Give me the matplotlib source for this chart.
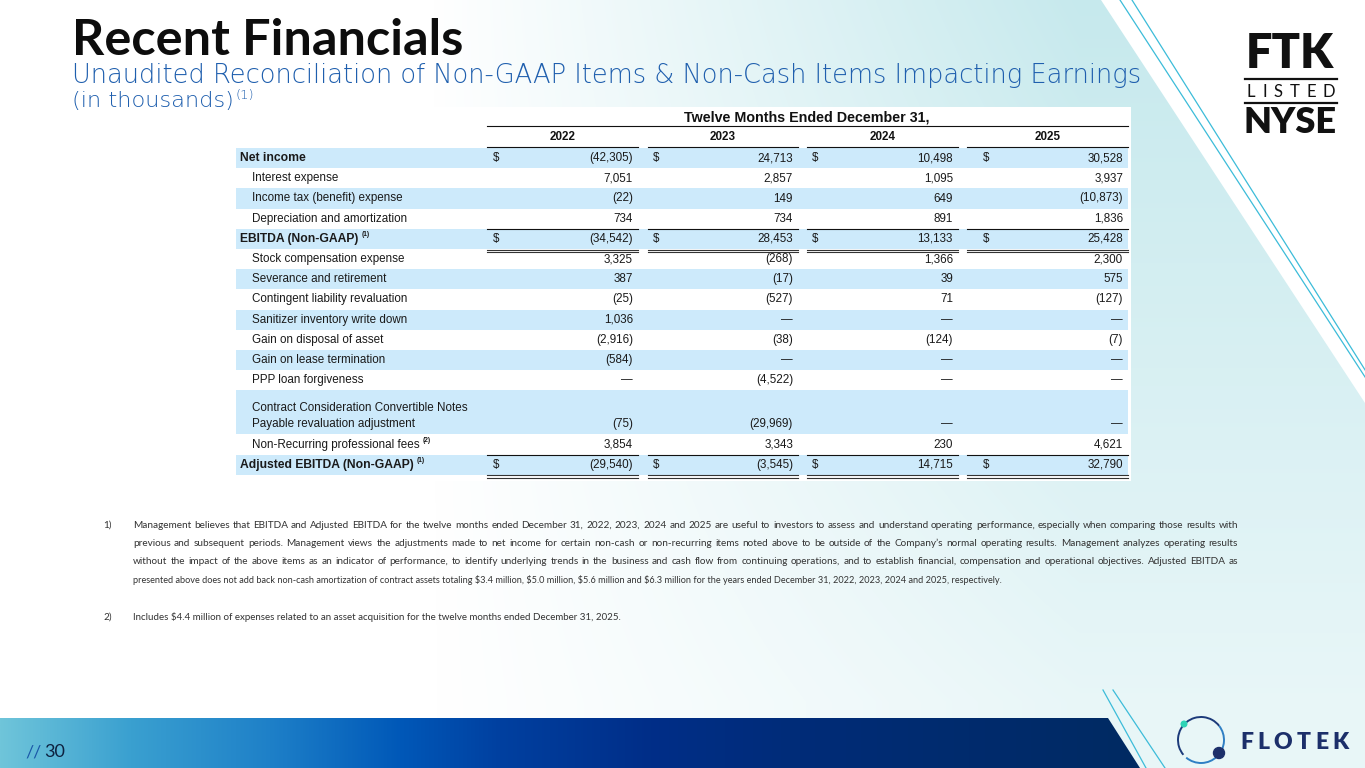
import numpy as np
import matplotlib
matplotlib.use("Agg")
import matplotlib.pyplot as plt
from matplotlib.patches import Polygon, Rectangle, Circle, Arc

# ---------------- data ----------------
slide_title = "Recent Financials"
slide_subtitle = "Unaudited Reconciliation of Non-GAAP Items & Non-Cash Items Impacting Earnings"
slide_units = "(in thousands)"
header_title = "Twelve Months Ended December 31,"
years = ["2022", "2023", "2024", "2025"]
row_labels = [
    "Net income",
    "Interest expense",
    "Income tax (benefit) expense",
    "Depreciation and amortization",
    "EBITDA (Non-GAAP)",
    "Stock compensation expense",
    "Severance and retirement",
    "Contingent liability revaluation",
    "Sanitizer inventory write down",
    "Gain on disposal of asset",
    "Gain on lease termination",
    "PPP loan forgiveness",
    "Contract Consideration Convertible Notes\nPayable revaluation adjustment",
    "Non-Recurring professional fees",
    "Adjusted EBITDA (Non-GAAP)",
]
row_notes = ["", "", "", "", "(1)", "", "", "", "", "", "", "", "", "(2)", "(1)"]
total_rows = [0, 4, 14]
values_2022 = [-42305, 7051, -22, 734, -34542, 3325, 387, -25, 1036, -2916, -584, 0, -75, 3854, -29540]
values_2023 = [24713, 2857, 149, 734, 28453, -268, -17, -527, 0, -38, 0, -4522, -29969, 3343, -3545]
values_2024 = [10498, 1095, 649, 891, 13133, 1366, 39, 71, 0, -124, 0, 0, 0, 230, 14715]
values_2025 = [30528, 3937, -10873, 1836, 25428, 2300, 575, -127, 0, -7, 0, 0, 0, 4621, 32790]
footnote_1 = [
    "Management believes that EBITDA and Adjusted EBITDA for the twelve months ended December 31, 2022, 2023, 2024 and 2025 are useful to investors to assess and understand operating performance, especially when comparing those results with",
    "previous and  subsequent periods. Management views the adjustments made to net income for certain non-cash or non-recurring items noted above to be outside of the Company\u2019s normal operating results. Management analyzes operating results",
    "without the impact of the above items as an indicator of performance, to identify underlying trends in the business and cash flow from continuing operations, and to establish financial, compensation and operational objectives. Adjusted EBITDA as",
    "presented above does not add back non-cash amortization of contract assets totaling $3.4 million, $5.0 million, $5.6 million and $6.3 million for the years ended December 31, 2022, 2023, 2024 and 2025, respectively.",
]
footnote_2 = "Includes $4.4 million of expenses related to an asset acquisition for the twelve months ended December 31, 2025."
page_number = "30"
company = "FLOTEK"

# ---------------- figure ----------------
W, H = 1365, 768
fig = plt.figure(figsize=(W / 100, H / 100), dpi=100)
ax = fig.add_axes([0, 0, 1, 1])
ax.set_xlim(0, W)
ax.set_ylim(H, 0)
ax.axis("off")
renderer = fig.canvas.get_renderer()


def txt(x, y, s, **kw):
    kw.setdefault("parse_math", False)
    return ax.text(x, y, s, **kw)


def wid(t):
    return t.get_window_extent(renderer).width


def fit(x, y, s, target, size0=10, **kw):
    t = txt(x, y, s, fontsize=size0, **kw)
    t.set_fontsize(size0 * target / wid(t))
    return t


# background tint
gy, gx = np.mgrid[0:H:4, 0:W:4]
alpha = np.clip((gx - 430) / 650, 0, 1) * (1 - 0.6 * np.clip(gy / 700, 0, 1))
rgba = np.zeros(gx.shape + (4,))
rgba[..., 0], rgba[..., 1], rgba[..., 2] = 0.78, 0.915, 0.93
rgba[..., 3] = alpha
im = ax.imshow(rgba, extent=(0, W, H, 0), aspect="auto", interpolation="bilinear", zorder=0)
clip = Polygon([(0, 0), (1101, 0), (1365, 403), (1365, H), (0, H)], closed=True,
               transform=ax.transData, facecolor="none", edgecolor="none")
ax.add_patch(clip)
im.set_clip_path(clip)

# decorative lines top right
for x0, slope in [(1120, 0.65), (1132, 0.63)]:
    ax.plot([x0, x0 + slope * 420], [0, 420], color="#3cbcd9", lw=0.9, zorder=1)

# bottom bar
stops_x = [0, 130, 270, 400, 500, 650, 800, 1140]
stops_c = ["#6fc5da", "#3aa0d0", "#1e80c8", "#0058b8", "#0040a0", "#002e88", "#002c78", "#002a62"]
rgb_stops = np.array([matplotlib.colors.to_rgb(c) for c in stops_c])
bx = np.linspace(0, 1140, 600)
bar = np.stack([np.interp(bx, stops_x, rgb_stops[:, k]) for k in range(3)], axis=-1)[None, :, :]
bim = ax.imshow(bar, extent=(0, 1140, 768, 718), aspect="auto", interpolation="bilinear", zorder=1)
bclip = Polygon([(0, 718), (1108, 718), (1140, 768), (0, 768)], closed=True,
                transform=ax.transData, facecolor="none", edgecolor="none")
ax.add_patch(bclip)
bim.set_clip_path(bclip)
for (xa, ya), (xb, yb) in [((1103, 690), (1146, 768)), ((1113, 690), (1165, 768))]:
    ax.plot([xa, xb], [ya, yb], color="#3cbcd9", lw=0.9, zorder=2)
ax.set_xlim(0, W)
ax.set_ylim(H, 0)

# page number
t1 = txt(25, 757, "//", fontsize=13, family="Lato", color="#1a57a8", va="baseline", zorder=3)
txt(25 + wid(t1) + 3, 757, page_number, fontsize=13, family="Lato", color="#0d2240", va="baseline", zorder=3)

# Flotek logo
ax.add_patch(Arc((1201, 740), 46, 46, theta1=-38, theta2=130, color="#2f7fc4", lw=1.4, zorder=3))
ax.add_patch(Arc((1201, 740), 46, 46, theta1=140, theta2=322, color="#1c3a7a", lw=1.4, zorder=3))
ax.add_patch(Circle((1184, 724), 2.8, color="#2ed3b7", zorder=4))
ax.add_patch(Circle((1219, 753), 5.5, color="#1c2f6a", zorder=4))
letters = [txt(0, 749, ch, fontsize=16.5, family="Lato", weight="heavy", color="#1c2f6a",
               va="baseline", zorder=3) for ch in company]
lw_ = [wid(t) for t in letters]
gap = (109 - sum(lw_)) / (len(letters) - 1)
cx = 1240
for t, w in zip(letters, lw_):
    t.set_x(cx)
    cx += w + gap

# NYSE logo
fit(1246, 68, "FTK", 88, size0=30, family="Lato", weight="heavy", color="#111111", va="baseline")
ax.plot([1245, 1337], [78.5, 78.5], color="#111111", lw=1.6)
lst = [txt(0, 97, ch, fontsize=12, family="Lato", color="#111111", va="baseline") for ch in "LISTED"]
lws = [wid(t) for t in lst]
gap = (88 - sum(lws)) / 5
cx = 1247
for t, w in zip(lst, lws):
    t.set_x(cx)
    cx += w + gap
ax.plot([1245, 1337], [102.5, 102.5], color="#111111", lw=1.6)
fit(1244, 133, "NYSE", 93, size0=30, family="Lato", weight="heavy", color="#111111", va="baseline")

# titles
fit(72, 55, slide_title, 391, size0=30, family="Lato", weight="bold", color="#0d0d0d", va="baseline")
fit(72, 83, slide_subtitle, 1074, size0=16, family="DejaVu Sans", weight="light", color="#1f5fae", va="baseline")
tu = fit(72, 107, slide_units, 162, size0=14, family="DejaVu Sans", weight="light", color="#1f5fae", va="baseline")
txt(72 + wid(tu) + 2, 99, "(1)", fontsize=9.5, family="DejaVu Sans", weight="light", color="#1f5fae", va="baseline")

# ---------------- table ----------------
ax.add_patch(Rectangle((230, 107), 901, 374, facecolor="white", edgecolor="none", zorder=1))
TF = "Liberation Sans"
FS = 8.4
UNIT = 20.2
spans = np.array([2.18 if "\n" in lab else 1.0 for lab in row_labels])
tops = 148 + UNIT * np.concatenate([[0.0], np.cumsum(spans)[:-1]])
bottoms = tops + UNIT * spans
col_values = [values_2022, values_2023, values_2024, values_2025]
col_seg = [(487, 638), (648, 798), (807, 958), (967, 1128)]
col_dollar = [493, 653, 812, 983]
col_right = [633, 793, 953, 1123]


def fmt(v):
    if v == 0:
        return "\u2014"
    s = f"{abs(v):,}"
    return f"({s})" if v < 0 else s


txt(807, 117, header_title, fontsize=10.3, family=TF, weight="bold", color="#111111",
    ha="center", va="center", zorder=3)
ax.plot([487, 1128], [126, 126], color="#111111", lw=0.8, zorder=3)
for (a, b), yr in zip(col_seg, years):
    txt((a + b) / 2, 137, yr, fontsize=FS, family=TF, weight="bold", color="#111111",
        ha="center", va="center", zorder=3)
    ax.plot([a, b], [147, 147], color="#111111", lw=0.8, zorder=3)

for i, lab in enumerate(row_labels):
    top, bot = tops[i], bottoms[i]
    if i % 2 == 0:
        ax.add_patch(Rectangle((236, top), 892, bot - top, facecolor="#cdeafb", edgecolor="none", zorder=2))
    ty = bot - UNIT / 2
    bold = i in total_rows
    lx = 240 if bold else 252
    lines = lab.split("\n")
    last = None
    for k, line in enumerate(lines):
        yy = ty - (len(lines) - 1 - k) * 16
        last = txt(lx, yy, line, fontsize=FS + (0.3 if bold else 0), family=TF,
                   weight="bold" if bold else "normal", color="#1a1a1a", va="center", zorder=3)
    if row_notes[i]:
        txt(lx + wid(last) + 3, ty - 4, row_notes[i], fontsize=4.8, family=TF, weight="bold",
            color="#1a1a1a", va="center", zorder=3)
    for c in range(4):
        if i in total_rows:
            txt(col_dollar[c], ty, "$", fontsize=FS, family=TF, color="#1a1a1a", va="center", zorder=3)
        txt(col_right[c], ty, fmt(col_values[c][i]), fontsize=FS, family=TF, color="#1a1a1a",
            ha="right", va="center", zorder=3)

for i in [3, 13]:
    y = bottoms[i]
    for a, b in col_seg:
        ax.plot([a, b], [y, y], color="#111111", lw=0.8, zorder=4)
for i in [4, 14]:
    y = bottoms[i]
    for a, b in col_seg:
        ax.plot([a, b], [y + 0.5, y + 0.5], color="#333333", lw=0.8, zorder=4)
        ax.plot([a, b], [y + 3, y + 3], color="#333333", lw=0.8, zorder=4)

# ---------------- footnotes ----------------
FC = "#333333"
FF = "Lato"
probe = txt(0, -50, footnote_1[0], fontsize=8, family=FF)
fsz = 8 * 1092 / wid(probe)
probe.remove()
txt(103, 525, "1)", fontsize=fsz, family=FF, color=FC, va="center")
for k, line in enumerate(footnote_1):
    y = 525 + k * 18.3
    if k < 3:
        words = line.split()
        ts = [txt(0, y, w_, fontsize=fsz, family=FF, color=FC, va="center") for w_ in words]
        ws = [wid(t) for t in ts]
        g = (1105 - sum(ws)) / (len(ws) - 1)
        cx = 133
        for t, w in zip(ts, ws):
            t.set_x(cx)
            cx += w + g
    else:
        t4 = txt(133, y, line, fontsize=fsz * 0.92, family=FF, color=FC, va="center")
txt(103, 617, "2)", fontsize=fsz, family=FF, color=FC, va="center")
t5 = txt(133, 617, footnote_2, fontsize=fsz, family=FF, color=FC, va="center")
if wid(t5) > 492:
    t5.set_fontsize(fsz * 492 / wid(t5))

fig.savefig("out.png", dpi=100)
